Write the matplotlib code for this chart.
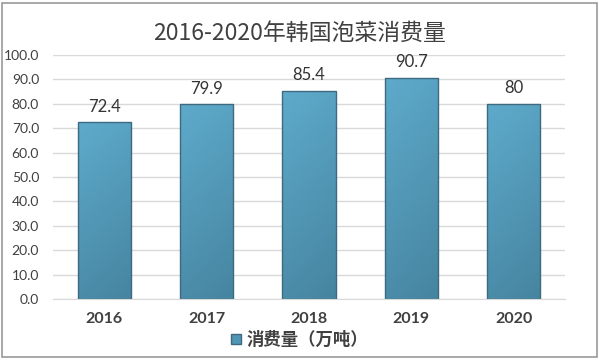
import matplotlib.pyplot as plt
import numpy as np
from matplotlib.patches import Rectangle
from matplotlib.colors import LinearSegmentedColormap

plt.rcParams['font.family'] = ['Noto Sans CJK SC', 'DejaVu Sans']

years = ["2016", "2017", "2018", "2019", "2020"]
consumption = [72.4, 79.9, 85.4, 90.7, 80]
value_labels = ["72.4", "79.9", "85.4", "90.7", "80"]
title = "2016-2020年韩国泡菜消费量"
series_name = "消费量（万吨）"

fig = plt.figure(figsize=(5.99, 3.6), dpi=100)
ax = fig.add_axes([0.0885, 0.1694, 0.8545, 0.6778])

x = np.arange(len(years))
width = 0.52
bars = ax.bar(x, consumption, width=width, color="#539ab9", edgecolor="#3d6a7e",
              linewidth=1.0, zorder=2, label=series_name)

# soft gradient inside each bar, light top-left to darker bottom-right
cmap = LinearSegmentedColormap.from_list("g", ["#5eaacb", "#4685a0"])
gy, gx = np.mgrid[0:1:64j, 0:1:16j]
grad = 0.8 * gy + 0.2 * gx
for b in bars:
    x0, y0 = b.get_x(), b.get_y()
    w, h = b.get_width(), b.get_height()
    im = ax.imshow(grad, extent=[x0, x0 + w, y0, y0 + h], origin="upper",
                   cmap=cmap, aspect="auto", zorder=1.9)
    im.set_clip_path(b)
    b.set_facecolor("none")

for xi, v, lbl in zip(x, consumption, value_labels):
    ax.text(xi, v + 3, lbl, ha="center", va="bottom", fontsize=12,
            color="#333333", family=["Lato", "DejaVu Sans"])

ax.set_xlim(-0.5, 4.5)
ax.set_ylim(0, 100)
ax.set_yticks(np.arange(0, 101, 10))
ax.set_yticklabels([f"{t:.1f}" for t in np.arange(0, 101, 10)],
                   family=["Lato", "DejaVu Sans"])
ax.set_xticks(x)
ax.set_xticklabels(years, fontweight="bold", family=["Lato", "DejaVu Sans"])
ax.yaxis.grid(True, color="#d9d9d9", linewidth=1, zorder=0)
ax.set_axisbelow(True)
for s in ["top", "right", "left"]:
    ax.spines[s].set_visible(False)
ax.spines["bottom"].set_color("#d9d9d9")
ax.tick_params(axis="y", length=0, pad=10, labelsize=10, labelcolor="#404040")
ax.tick_params(axis="x", length=0, pad=9, labelsize=11.5, labelcolor="#404040")

fig.text(0.5, 0.908, title, ha="center", va="center", fontsize=16.5,
         color="#404040", family=["Noto Sans CJK SC"])

leg = fig.legend(handles=[bars], labels=[series_name], loc="center",
                 bbox_to_anchor=(0.5, 0.055), frameon=False, fontsize=12.5,
                 handlelength=0.55, handleheight=0.55, handletextpad=0.3)
leg.legend_handles[0].set_facecolor("#4f95b4")
leg.legend_handles[0].set_edgecolor("#3d6a7e")
for t in leg.get_texts():
    t.set_color("#404040")
    t.set_fontweight("bold")

fig.patches.append(Rectangle((0.004, 0.008), 0.992, 0.984, transform=fig.transFigure,
                             fill=False, edgecolor="#999999", linewidth=1.2))

fig.savefig("out.png", dpi=100)
